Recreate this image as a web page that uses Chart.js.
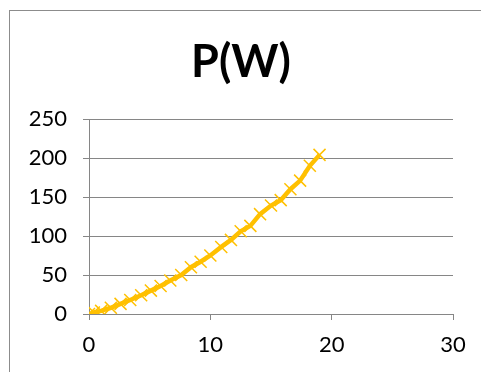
<!DOCTYPE html>
<html>
<head>
<meta charset="utf-8">
<script src="https://cdn.jsdelivr.net/npm/chart.js@4"></script>
<style>
  html, body { margin: 0; padding: 0; background: #fff; overflow: hidden; }
  #wrap { position: relative; width: 481px; height: 372px; }
  #frame { position: absolute; left: 9px; top: 10px; width: 520px; height: 420px; border: 1px solid #8c8c8c; box-sizing: border-box; }
  canvas { position: absolute; left: 0; top: 0; }
</style>
</head>
<body>
<div id="wrap">
  <div id="frame"></div>
  <canvas id="c" width="481" height="372"></canvas>
</div>
<script>
'use strict';

// values
const xValues = [0, 0.4, 1.0, 1.8, 2.6, 3.4, 4.3, 5.1, 5.9, 6.7, 7.6, 8.4, 9.2, 10.0, 10.9, 11.7, 12.5, 13.3, 14.1, 15.0, 15.8, 16.6, 17.4, 18.2, 19.0];
const pValues = [0, 2, 4, 8, 13, 18, 24, 30, 36, 43, 50, 60, 67, 75, 86, 95, 106, 113, 128, 139, 146, 160, 171, 190, 204];
const xTicks = [0, 10, 20, 30];
const yTicks = [0, 50, 100, 150, 200, 250];

const points = xValues.map((x, i) => ({ x: x, y: pValues[i] }));
const FONT = 'Lato, "Open Sans", sans-serif';
const GOLD = '#FFC000';

new Chart(document.getElementById('c'), {
    type: 'scatter',
    data: {
        datasets: [{
            label: 'P(W)',
            data: points,
            showLine: true,
            borderColor: GOLD,
            backgroundColor: GOLD,
            borderWidth: 4.5,
            pointStyle: 'crossRot',
            pointRadius: 8.5,
            pointBorderWidth: 1.5,
            pointBorderColor: GOLD,
            tension: 0
        }]
    },
    options: {
        responsive: false,
        animation: false,
        layout: { padding: { left: 29, right: 28, top: 0, bottom: 10 } },
        scales: {
            x: {
                type: 'linear',
                min: 0,
                max: 30,
                afterBuildTicks(scale) { scale.ticks = xTicks.map(v => ({ value: v })); },
                afterFit(scale) { scale.height = 48; },
                grid: { drawOnChartArea: false, color: '#868686', tickLength: 6, lineWidth: 1 },
                border: { color: '#868686', width: 1 },
                ticks: { color: '#000', font: { family: FONT, size: 22 }, padding: 12 }
            },
            y: {
                min: 0,
                max: 250,
                afterBuildTicks(scale) { scale.ticks = yTicks.map(v => ({ value: v })); },
                afterFit(scale) { scale.width = 60; },
                grid: { color: '#868686', tickLength: 6, lineWidth: 1 },
                border: { color: '#868686', width: 1 },
                ticks: { color: '#000', font: { family: FONT, size: 22 }, padding: 16 }
            }
        },
        plugins: {
            legend: { display: false },
            tooltip: { enabled: false },
            title: {
                display: true,
                text: 'P(W)',
                color: '#000',
                font: { family: FONT, size: 45, weight: 'bold' },
                padding: { top: 35, bottom: 30 }
            }
        }
    }
});
</script>
</body>
</html>
